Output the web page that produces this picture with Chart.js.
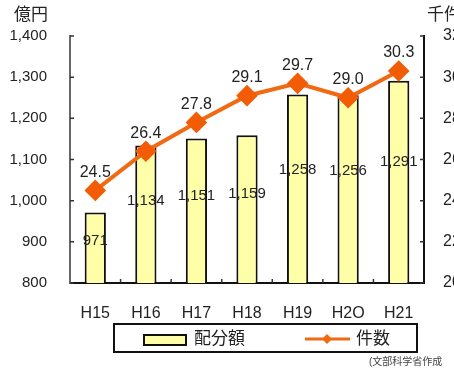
<!DOCTYPE html>
<html lang="ja">
<head>
    <meta charset="UTF-8">
    <title>配分額と件数</title>
    <script src="https://cdn.jsdelivr.net/npm/chart.js"></script>
    <style>
        html, body { margin: 0; padding: 0; background: #fff; }
        #wrap { width: 454px; height: 369px; }
    </style>
</head>
<body>
    <div id="wrap"><canvas id="grafico" width="454" height="369"></canvas></div>

    <script>
        // dados
        const anos = ["H15", "H16", "H17", "H18", "H19", "H2O", "H21"];
        const haibungaku = [971, 1134, 1151, 1159, 1258, 1256, 1291];
        const kensu = [24.5, 26.4, 27.8, 29.1, 29.7, 29.0, 30.3];
        const ticksEsq = [800, 900, 1000, 1100, 1200, 1300, 1400];
        const ticksDir = [20, 22, 24, 26, 28, 30, 32];

        const fonte = '"Liberation Sans", "Noto Sans CJK JP", sans-serif';
        const laranja = "#f06a14";

        // rótulos, eixos extras e legenda
        const extras = {
            id: "extras",
            afterDatasetsDraw(chart) {
                const ctx = chart.ctx;
                const y = chart.scales.y, y1 = chart.scales.y1, x = chart.scales.x;
                ctx.save();
                ctx.fillStyle = "#222";
                ctx.font = "15px " + fonte;
                ctx.textAlign = "center";
                ctx.textBaseline = "middle";
                haibungaku.forEach((v, i) => {
                    const px = x.getPixelForValue(i);
                    const py = y.getPixelForValue(800 + (v - 800) * 0.6);
                    ctx.fillText(v.toLocaleString("en-US"), px, py);
                });
                ctx.font = "16px " + fonte;
                kensu.forEach((v, i) => {
                    const px = x.getPixelForValue(i);
                    const py = y1.getPixelForValue(v) - 18;
                    ctx.fillText(v.toFixed(1), px, py);
                });
                ctx.restore();
            },
            afterDraw(chart) {
                const ctx = chart.ctx;
                const area = chart.chartArea;
                const y = chart.scales.y, y1 = chart.scales.y1, x = chart.scales.x;
                ctx.save();
                // pequenos traços para dentro
                ctx.strokeStyle = "#333";
                ctx.lineWidth = 1.5;
                ctx.beginPath();
                ticksEsq.forEach(t => {
                    const py = y.getPixelForValue(t);
                    ctx.moveTo(area.left, py); ctx.lineTo(area.left + 4, py);
                });
                ticksDir.forEach(t => {
                    const py = y1.getPixelForValue(t);
                    ctx.moveTo(area.right, py); ctx.lineTo(area.right - 4, py);
                });
                for (let i = 1; i < anos.length; i++) {
                    const px = (x.getPixelForValue(i - 1) + x.getPixelForValue(i)) / 2;
                    ctx.moveTo(px, area.bottom); ctx.lineTo(px, area.bottom - 4);
                }
                ctx.stroke();

                // unidades
                ctx.fillStyle = "#222";
                ctx.font = "17px " + fonte;
                ctx.textBaseline = "middle";
                ctx.textAlign = "left";
                ctx.fillText("億円", 14, 15);
                ctx.fillText("千件", 427, 15);

                // legenda
                ctx.lineWidth = 2;
                ctx.strokeStyle = "#111";
                ctx.strokeRect(114, 324, 303, 28);
                ctx.fillStyle = "#ffffa8";
                ctx.fillRect(144, 335, 42, 10);
                ctx.strokeRect(144, 335, 42, 10);
                ctx.fillStyle = "#222";
                ctx.font = "17px " + fonte;
                ctx.fillText("配分額", 194, 339);
                ctx.strokeStyle = laranja;
                ctx.lineWidth = 3;
                ctx.beginPath();
                ctx.moveTo(305, 339); ctx.lineTo(350, 339);
                ctx.stroke();
                ctx.fillStyle = laranja;
                ctx.beginPath();
                ctx.moveTo(327, 334); ctx.lineTo(332, 339); ctx.lineTo(327, 344); ctx.lineTo(322, 339);
                ctx.closePath(); ctx.fill();
                ctx.fillStyle = "#222";
                ctx.fillText("件数", 356, 339);

                // fonte
                ctx.font = "10px " + fonte;
                ctx.fillStyle = "#444";
                ctx.fillText("(文部科学省作成", 369, 362);
                ctx.restore();
            }
        };

        new Chart(document.getElementById("grafico"), {
            data: {
                labels: anos,
                datasets: [{
                    type: "line",
                    label: "件数",
                    data: kensu,
                    yAxisID: "y1",
                    borderColor: laranja,
                    borderWidth: 4,
                    backgroundColor: "#f25c05",
                    pointBackgroundColor: "#f25c05",
                    pointBorderColor: "#f25c05",
                    pointStyle: "rectRot",
                    pointRadius: 8,
                    tension: 0,
                    order: 0
                }, {
                    type: "bar",
                    label: "配分額",
                    data: haibungaku,
                    yAxisID: "y",
                    backgroundColor: "#ffffa8",
                    borderColor: "#111",
                    borderWidth: 2,
                    borderSkipped: false,
                    categoryPercentage: 1,
                    barPercentage: 0.42,
                    order: 1
                }]
            },
            options: {
                responsive: false,
                animation: false,
                layout: { padding: { top: 36, left: 0, right: 0, bottom: 0 } },
                plugins: {
                    legend: { display: false },
                    tooltip: { enabled: false }
                },
                scales: {
                    x: {
                        offset: true,
                        grid: { display: false },
                        border: { display: true, color: "#111", width: 2 },
                        ticks: { color: "#222", padding: 13, font: { family: fonte, size: 16 } },
                        afterFit(s) { s.height = 86; }
                    },
                    y: {
                        position: "left",
                        min: 800, max: 1400,
                        grid: { display: false },
                        border: { display: true, color: "#666", width: 2 },
                        afterBuildTicks(s) { s.ticks = ticksEsq.map(v => ({ value: v })); },
                        ticks: {
                            color: "#222", padding: 15,
                            font: { family: fonte, size: 15 },
                            callback: v => v.toLocaleString("en-US")
                        },
                        afterFit(s) { s.width = 70; }
                    },
                    y1: {
                        position: "right",
                        min: 20, max: 32,
                        grid: { display: false },
                        border: { display: true, color: "#111", width: 2 },
                        afterBuildTicks(s) { s.ticks = ticksDir.map(v => ({ value: v })); },
                        ticks: { color: "#222", padding: 11, font: { family: fonte, size: 16 } },
                        afterFit(s) { s.width = 30; }
                    }
                }
            },
            plugins: [extras]
        });
    </script>
</body>
</html>
